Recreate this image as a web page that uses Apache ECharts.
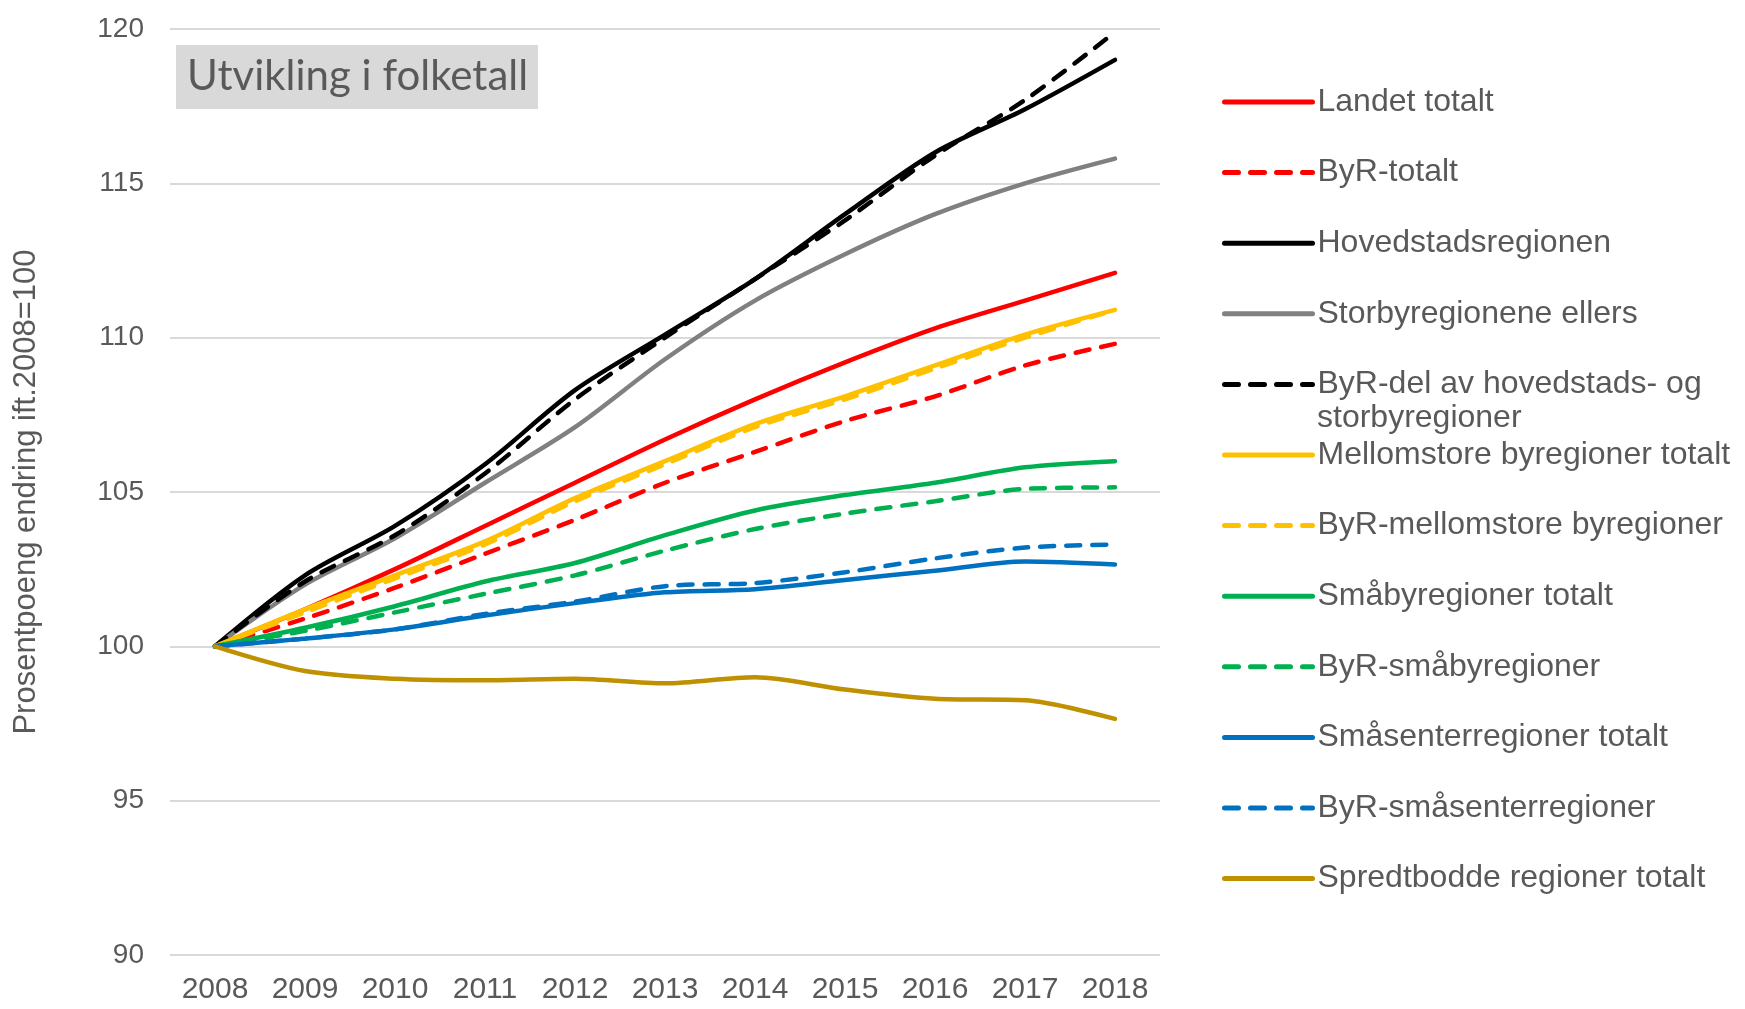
<!DOCTYPE html>
<html>
<head>
<meta charset="utf-8">
<script src="https://cdn.jsdelivr.net/npm/echarts@6/dist/echarts.min.js"></script>
<style>
  html, body { margin: 0; padding: 0; background: #fff; }
  #chart { width: 1745px; height: 1009px; }
</style>
</head>
<body>
<div id="chart"></div>
<script>
// år
const years = ["2008", "2009", "2010", "2011", "2012", "2013", "2014", "2015", "2016", "2017", "2018"];

// indeks 2008=100
const landetTotalt     = [100, 101.2, 102.5, 103.9, 105.3, 106.7, 108.0, 109.2, 110.3, 111.2, 112.1];
const byrTotalt        = [100, 100.9, 101.9, 103.0, 104.1, 105.3, 106.3, 107.3, 108.1, 109.1, 109.8];
const hovedstad        = [100, 102.3, 103.9, 105.9, 108.3, 110.1, 111.9, 114.0, 116.0, 117.4, 119.0];
const storbyEllers     = [100, 102.0, 103.5, 105.3, 107.1, 109.3, 111.2, 112.7, 114.0, 115.0, 115.8];
const byrHovedStorby   = [100, 102.1, 103.6, 105.6, 108.0, 110.0, 111.9, 113.8, 115.9, 117.7, 119.9];
const mellomTotalt     = [100, 101.2, 102.3, 103.4, 104.8, 106.0, 107.2, 108.1, 109.1, 110.1, 110.9];
const byrMellom        = [100, 101.1, 102.2, 103.3, 104.7, 105.9, 107.1, 108.0, 109.0, 110.0, 110.9];
const smabyTotalt      = [100, 100.6, 101.3, 102.1, 102.7, 103.6, 104.4, 104.9, 105.3, 105.8, 106.0];
const byrSmaby         = [100, 100.5, 101.1, 101.7, 102.3, 103.1, 103.8, 104.3, 104.7, 105.1, 105.15];
const smasenterTotalt  = [100, 100.25, 100.55, 101.0, 101.4, 101.75, 101.85, 102.15, 102.45, 102.75, 102.65];
const byrSmasenter     = [100, 100.25, 100.55, 101.05, 101.45, 101.95, 102.05, 102.4, 102.85, 103.2, 103.3];
const spredtbodde      = [100, 99.2, 98.95, 98.9, 98.95, 98.8, 99.0, 98.6, 98.3, 98.25, 97.65];

const yTicks = { min: 90, max: 120, interval: 5 };

const chart = echarts.init(document.getElementById("chart"));

const dash = [14, 12];
const mk = (name, data, color, dashed) => ({
  name: name,
  type: "line",
  data: data,
  smooth: 0.3,
  symbol: "none",
  lineStyle: {
    color: color,
    width: 4.5,
    type: dashed ? dash : "solid",
    cap: "round",
  },
  itemStyle: { color: color },
});

const series = [
  mk("Landet totalt", landetTotalt, "#FF0000", false),
  mk("ByR-totalt", byrTotalt, "#FF0000", true),
  mk("Hovedstadsregionen", hovedstad, "#000000", false),
  mk("Storbyregionene ellers", storbyEllers, "#808080", false),
  mk("ByR-del av hovedstads- og", byrHovedStorby, "#000000", true),
  mk("Mellomstore byregioner totalt", mellomTotalt, "#FFC000", false),
  mk("ByR-mellomstore byregioner", byrMellom, "#FFC000", true),
  mk("Småbyregioner totalt", smabyTotalt, "#00B050", false),
  mk("ByR-småbyregioner", byrSmaby, "#00B050", true),
  mk("Småsenterregioner totalt", smasenterTotalt, "#0070C0", false),
  mk("ByR-småsenterregioner", byrSmasenter, "#0070C0", true),
  mk("Spredtbodde regioner totalt", spredtbodde, "#BF9000", false),
];

const option = {
  animation: false,
  backgroundColor: "#fff",
  textStyle: { fontFamily: "Liberation Sans, Arial, sans-serif" },
  grid: { left: 170, right: 585, top: 29, bottom: 54 },
  graphic: [
    {
      type: "rect",
      left: 176,
      top: 45,
      shape: { width: 362, height: 64 },
      style: { fill: "#D9D9D9" },
      z: 1,
    },
    {
      type: "text",
      left: 187,
      top: 55,
      style: {
        text: "Utvikling i folketall",
        font: "42px Lato, 'Open Sans', sans-serif",
        fill: "#595959",
      },
      z: 2,
    },
    {
      // andre linje i legenden
      type: "text",
      left: 1317,
      top: 402,
      style: {
        text: "storbyregioner",
        font: "32px 'Liberation Sans', Arial, sans-serif",
        fill: "#595959",
      },
    },
  ],
  legend: {
    orient: "vertical",
    left: 1217,
    top: 80,
    itemWidth: 88,
    itemHeight: 14,
    itemGap: 36.6,
    itemStyle: { opacity: 0 },
    lineStyle: { width: 5 },
    textStyle: {
      color: "#595959",
      fontSize: 32,
      lineHeight: 34,
      fontFamily: "Liberation Sans, Arial, sans-serif",
    },
    data: series.map((s) => s.name),
  },
  xAxis: {
    type: "category",
    data: years,
    boundaryGap: true,
    axisLine: { show: false },
    axisTick: { show: false },
    axisLabel: {
      color: "#595959",
      fontSize: 30,
      margin: 20,
    },
  },
  yAxis: {
    type: "value",
    min: yTicks.min,
    max: yTicks.max,
    interval: yTicks.interval,
    name: "Prosentpoeng endring ift.2008=100",
    nameLocation: "middle",
    nameGap: 128,
    nameRotate: 90,
    nameTextStyle: { color: "#595959", fontSize: 31 },
    axisLine: { show: false },
    axisTick: { show: false },
    axisLabel: { color: "#595959", fontSize: 28, margin: 26 },
    splitLine: { lineStyle: { color: "#D9D9D9", width: 2 } },
  },
  series: series,
};

chart.setOption(option);
</script>
</body>
</html>
